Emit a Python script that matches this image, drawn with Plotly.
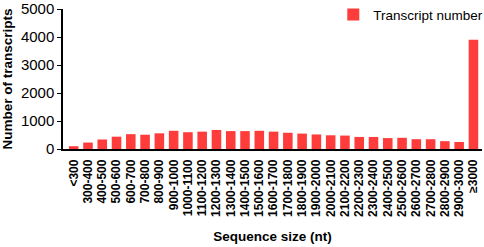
import plotly.graph_objects as go

size_bins = ["<300", "300-400", "400-500", "500-600", "600-700", "700-800", "800-900",
             "900-1000", "1000-1100", "1100-1200", "1200-1300", "1300-1400", "1400-1500",
             "1500-1600", "1600-1700", "1700-1800", "1800-1900", "1900-2000", "2000-2100",
             "2100-2200", "2200-2300", "2300-2400", "2400-2500", "2500-2600", "2600-2700",
             "2700-2800", "2800-2900", "2900-3000", "≥3000"]
transcripts = [100, 230, 340, 440, 530, 510, 560, 650, 600, 620, 680, 640, 640, 650,
               620, 580, 550, 520, 490, 480, 430, 430, 390, 400, 350, 350, 280, 250, 3900]

font = "Arial, Liberation Sans, sans-serif"

fig = go.Figure(go.Bar(x=size_bins, y=transcripts, name="Transcript number",
                       marker_color="#ff3c3c", marker_line_width=0,
                       showlegend=True))

fig.update_layout(
    width=484, height=247,
    margin=dict(l=63, r=2, t=9, b=98, autoexpand=False),
    plot_bgcolor="white", paper_bgcolor="white",
    bargap=0.33,
    font=dict(family=font, color="black"),
    legend=dict(x=1.015, xanchor="right", y=1.07, yanchor="top",
                font=dict(size=13.5), bgcolor="rgba(0,0,0,0)"),
)
fig.update_xaxes(
    range=[-0.75, 28.6], tickangle=-90, automargin=False, ticklabeloverflow="allow",
    tickfont=dict(size=12, family=font, weight="bold"),
    showline=True, linecolor="black", linewidth=1.5,
    ticks="", ticklabelstandoff=4,
    title=dict(text="<b>Sequence size (nt)</b>", font=dict(size=13.5), standoff=16),
)
fig.update_yaxes(
    range=[0, 5000], tickvals=[0, 1000, 2000, 3000, 4000, 5000], automargin=False,
    ticklabeloverflow="allow",
    tickfont=dict(size=15), showgrid=False, zeroline=False,
    showline=True, linecolor="black", linewidth=1.5,
    ticks="outside", ticklen=4, tickcolor="black",
    title=dict(text="<b>Number of transcripts</b>", font=dict(size=13.5), standoff=5),
)

fig.write_html("out.html", config={"displayModeBar": False},
               post_script="document.body.style.margin='0';")
